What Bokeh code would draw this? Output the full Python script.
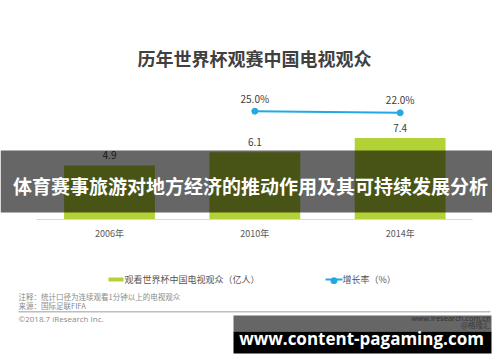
from bokeh.plotting import figure
from bokeh.models import Range1d, Label, BoxAnnotation, ColumnDataSource, FixedTicker
from bokeh.core.properties import value
from bokeh.embed import file_html
from bokeh.resources import INLINE

# ---- data ----
years = ["2006年", "2010年", "2014年"]
viewers = [4.9, 6.1, 7.4]
viewer_labels = ["4.9", "6.1", "7.4"]
rate_years = ["2010年", "2014年"]
rates = [25.0, 22.0]
rate_labels = ["25.0%", "22.0%"]

title_text = "历年世界杯观赛中国电视观众"
banner_text = "体育赛事旅游对地方经济的推动作用及其可持续发展分析"
legend_bar = "观看世界杯中国电视观众（亿人）"
legend_line = "增长率（%）"
note1 = "注释：统计口径为连续观看1分钟以上的电视观众"
note2 = "来源：国际足联FIFA"
copyright_text = "©2018.7 iResearch Inc."
site_text = "www.iresearch.com.cn"
watermark = "www.content-pagaming.com"

BAR = "#b3d235"
BLUE = "#22a9e2"
CJK = "Noto Sans CJK SC"

W, H = 492, 354
xpos = list(range(len(years)))
rate_x = [years.index(y) for y in rate_years]

p = figure(width=W, height=H, x_range=Range1d(-0.75, 2.6354),
           y_range=Range1d(-12.24, 19.855),
           output_backend="svg", toolbar_location=None, y_axis_location=None,
           min_border=0)
p.extra_y_ranges = {"rate": Range1d(-431.19, 232.56)}
p.outline_line_color = None
p.xgrid.grid_line_color = None
p.ygrid.grid_line_color = None
p.background_fill_color = "white"
p.border_fill_color = "white"

ax = p.xaxis[0]
ax.fixed_location = 0
ax.bounds = (-0.5, 2.5)
ax.ticker = FixedTicker(ticks=xpos)
ax.major_label_overrides = {i: y for i, y in zip(xpos, years)}
ax.axis_line_color = "#d9d9d9"
ax.axis_line_width = 1
ax.major_tick_line_color = None
ax.minor_tick_line_color = None
ax.major_tick_out = 0
ax.major_tick_in = 0
ax.major_label_standoff = 8
ax.major_label_text_font = CJK
ax.major_label_text_font_size = "9px"
ax.major_label_text_color = "#595959"

src = ColumnDataSource(dict(x=xpos, y=viewers, t=viewer_labels))
p.vbar(x="x", top="y", width=0.625, source=src, fill_color=BAR, line_color=None)
p.text(x="x", y="y", text="t", source=src, y_offset=-10, text_align="center",
       text_baseline="middle", text_font=value(CJK), text_font_size="10px",
       text_color="#404040")

rsrc = ColumnDataSource(dict(x=rate_x, y=rates, t=rate_labels))
p.line(x="x", y="y", source=rsrc, y_range_name="rate", line_color=BLUE, line_width=2)
p.scatter(x="x", y="y", source=rsrc, y_range_name="rate", size=6,
          fill_color=BLUE, line_color=BLUE)
p.text(x="x", y="y", text="t", source=rsrc, y_range_name="rate", y_offset=-13,
       text_align="center", text_baseline="middle", text_font=value(CJK),
       text_font_size="10px", text_color="#404040")

# screen helpers: reference pixel (from top-left) -> frame screen units
def sx(X):
    return X
def sy(Y):
    return H - Y

def label(X, Y, text, size, color, align="left", bold=False, font=CJK):
    p.add_layout(Label(x=sx(X), y=sy(Y), x_units="screen", y_units="screen",
                       text=text, text_font=font, text_font_size=size,
                       text_color=color, text_align=align, text_baseline="middle",
                       text_font_style="bold" if bold else "normal"))

def box(X0, Y0, X1, Y1, color, alpha=1.0):
    p.add_layout(BoxAnnotation(left=sx(X0), right=sx(X1), top=sy(Y0), bottom=sy(Y1),
                               left_units="screen", right_units="screen",
                               top_units="screen", bottom_units="screen",
                               fill_color=color, fill_alpha=alpha, line_color=None))

label(254, 57, title_text, "18px", "#404040", align="center", bold=True)

# legend
box(108, 277, 123, 281, BAR)
label(124, 279, legend_bar, "9px", "#555555")
box(325, 278, 342, 280, BLUE)
label(333.5, 279, "●", "9px", BLUE, align="center", font="DejaVu Sans")
label(342, 279, legend_line, "9px", "#555555")

# notes / footer
label(18, 296, note1, "7.5px", "#8a8a8a")
label(18, 305, note2, "7.5px", "#8a8a8a")
box(18, 310.5, 490, 312, "#bdbdbd")
label(18, 318, copyright_text, "8px", "#8a8a8a", font="Open Sans")
label(490, 317, site_text, "7.5px", "#777777", align="right", font="Open Sans")
label(490, 324, "@格隆汇", "7.5px", "#999999", align="right")

# banner overlay
box(0, 150, 500, 212, "black", 0.6)
label(250, 185, banner_text, "19px", "white", align="center", bold=True)

# watermark overlay
box(233, 315, 491, 331, "black", 0.6)
box(233, 331, 491, 353, "black", 1.0)
label(361, 338, watermark, "17px", "white", align="center", bold=True, font="Open Sans")

open("out.html", "w").write(file_html(p, INLINE))
